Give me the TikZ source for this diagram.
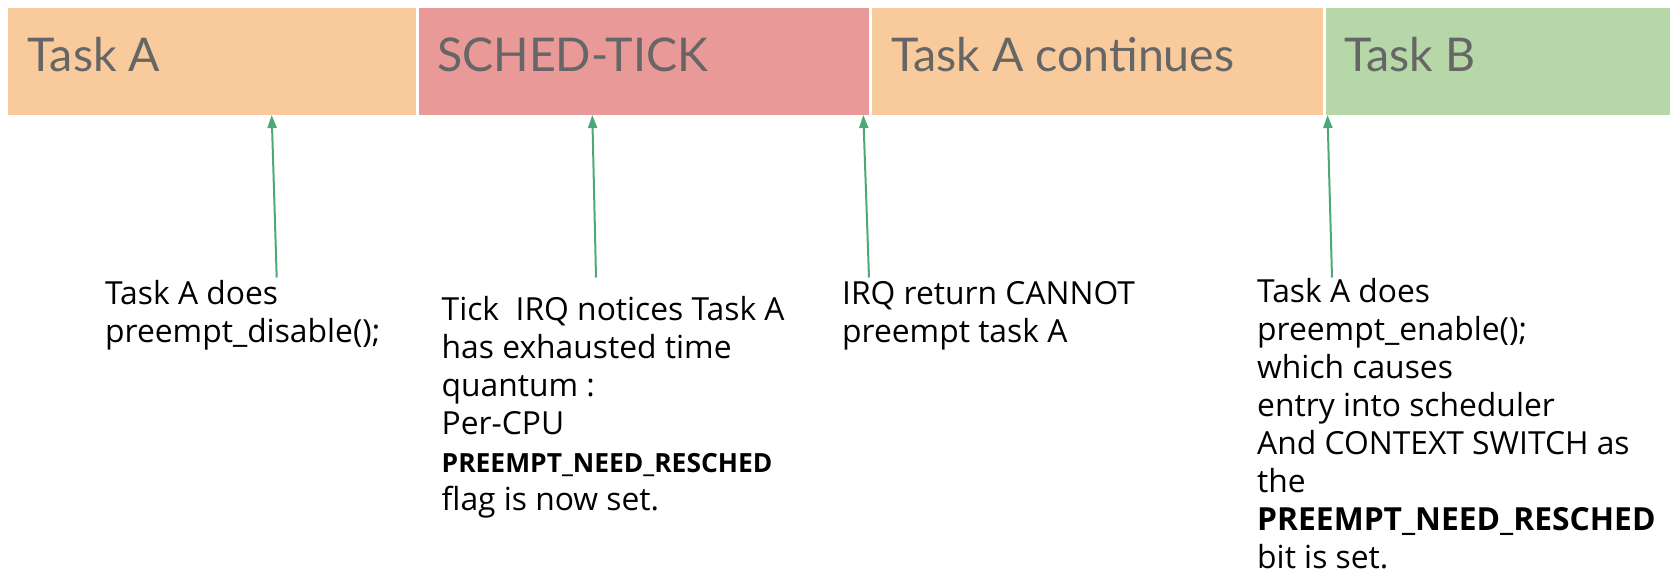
\documentclass[tikz,border=0pt]{standalone}
\usepackage{fontspec}
\setmainfont{Open Sans}
\newfontfamily\titlefont{Lato}
\usetikzlibrary{arrows.meta}

\definecolor{taskorange}{HTML}{F9CB9C}
\definecolor{tickred}{HTML}{EA9999}
\definecolor{taskgreen}{HTML}{B6D7A8}
\definecolor{titlegray}{HTML}{666666}
\definecolor{arrowgreen}{RGB}{76,168,120}

\tikzset{
  phasetitle/.style={anchor=base west, inner sep=0pt, text=titlegray,
    font=\titlefont\fontsize{46.5}{50}\selectfont},
  % notes are placed by the baseline of their last line
  note/.style={anchor=base west, inner sep=0pt, align=left, text=black,
    font=\fontsize{31.8}{38}\selectfont},
  pointer/.style={draw=arrowgreen, line width=2pt,
    -{Triangle[length=13pt,width=9pt]}},
}

\begin{document}
\begin{tikzpicture}[x=1pt,y=-1pt]
  \useasboundingbox (0,0) rectangle (1670,572);

  % timeline phases
  \fill[taskorange] (8,8) rectangle (416,115);
  \fill[tickred]    (418.5,8) rectangle (868.8,115);
  \fill[taskorange] (872,8) rectangle (1323,115);
  \fill[taskgreen]  (1325.5,8) rectangle (1670,115);

  \node[phasetitle] (pA)  at (27.5,72)   {Task A};
  \node[phasetitle] (pT)  at (437,72)    {SCHED-TICK};
  \node[phasetitle] (pAc) at (891,72)    {Task A continues};
  \node[phasetitle] (pB)  at (1344,72)   {Task B};

  % event descriptions
  \node[note] (n1) at (105,342) {Task A does\\preempt\_disable();};
  \node[note] (n2) at (441.5,510) {Tick\ \ IRQ notices Task A\\has exhausted time\\quantum :\\Per-CPU\\{\fontsize{26.4}{38}\selectfont\bfseries PREEMPT\_NEED\_RESCHED}\\flag is now set.};
  \node[note] (n3) at (842,342) {IRQ return CANNOT\\preempt task A};
  \node[note] (n4) at (1257,568) {Task A does\\preempt\_enable();\\which causes\\entry into scheduler\\And CONTEXT SWITCH as\\the\\\textbf{PREEMPT\_NEED\_RESCHED}\\bit is set.};

  % arrow ends: tails above each note, heads on the timeline edge
  \coordinate (s1) at (276.7,277.5);
  \coordinate (e1) at (271.7,115);
  \coordinate (s2) at (596,277.5);
  \coordinate (e2) at (592.3,115);
  \coordinate (s3) at (869,277.5);
  \coordinate (e3) at (863.3,115);
  \coordinate (s4) at (1332,277.5);
  \coordinate (e4) at (1327.5,115);

  \draw[pointer] (s1) -- (e1);
  \draw[pointer] (s2) -- (e2);
  \draw[pointer] (s3) -- (e3);
  \draw[pointer] (s4) -- (e4);
\end{tikzpicture}
\end{document}
